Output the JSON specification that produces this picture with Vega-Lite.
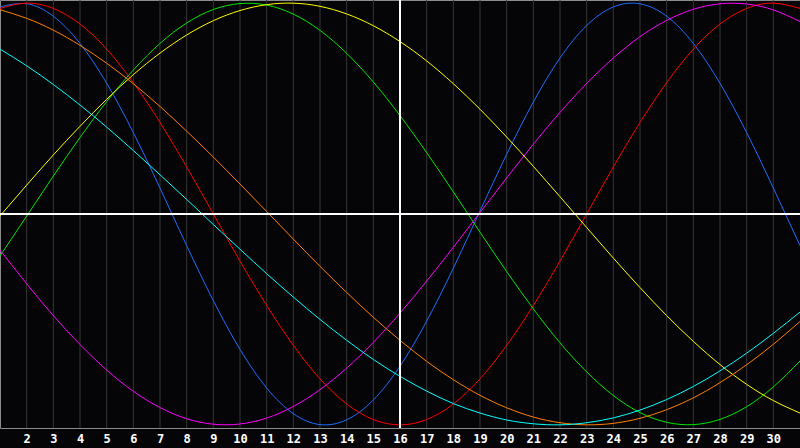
{
  "$schema": "https://vega.github.io/schema/vega-lite/v6.json",
  "width": 800,
  "height": 428,
  "padding": {"left": 0, "top": 0, "right": 0, "bottom": 20},
  "autosize": {"type": "none"},
  "background": "#050508",
  "config": {
    "view": {"stroke": "#8c8c8c", "fill": "#050508"},
    "axisX": {
      "labelOverlap": false, "labelBound": false,
      "grid": false, "ticks": false, "domain": false,
      "labelColor": "#ffffff", "labelFont": "DejaVu Sans Mono", "labelFontSize": 12,
      "labelFontWeight": "bold", "labelPadding": 5, "labelFlush": false
    }
  },
  "datasets": {
    "gridDays": [
      {"day":2},{"day":3},{"day":4},{"day":5},{"day":6},{"day":7},{"day":8},{"day":9},{"day":10},{"day":11},{"day":12},{"day":13},{"day":14},{"day":15},{"day":16},{"day":17},{"day":18},{"day":19},{"day":20},{"day":21},{"day":22},{"day":23},{"day":24},{"day":25},{"day":26},{"day":27},{"day":28},{"day":29},{"day":30}
    ],
    "cycles": [
      {"cycle":"Physical","day":1,"value":0.982},{"cycle":"Physical","day":2,"value":0.997},{"cycle":"Physical","day":3,"value":0.938},{"cycle":"Physical","day":4,"value":0.809},{"cycle":"Physical","day":5,"value":0.620},{"cycle":"Physical","day":6,"value":0.386},{"cycle":"Physical","day":7,"value":0.123},{"cycle":"Physical","day":8,"value":-0.150},{"cycle":"Physical","day":9,"value":-0.411},{"cycle":"Physical","day":10,"value":-0.642},{"cycle":"Physical","day":11,"value":-0.825},{"cycle":"Physical","day":12,"value":-0.947},{"cycle":"Physical","day":13,"value":-0.999},{"cycle":"Physical","day":14,"value":-0.976},{"cycle":"Physical","day":15,"value":-0.882},{"cycle":"Physical","day":16,"value":-0.722},{"cycle":"Physical","day":17,"value":-0.508},{"cycle":"Physical","day":18,"value":-0.257},{"cycle":"Physical","day":19,"value":0.014},{"cycle":"Physical","day":20,"value":0.283},{"cycle":"Physical","day":21,"value":0.531},{"cycle":"Physical","day":22,"value":0.740},{"cycle":"Physical","day":23,"value":0.894},{"cycle":"Physical","day":24,"value":0.982},{"cycle":"Physical","day":25,"value":0.997},{"cycle":"Physical","day":26,"value":0.938},{"cycle":"Physical","day":27,"value":0.809},{"cycle":"Physical","day":28,"value":0.620},{"cycle":"Physical","day":29,"value":0.386},{"cycle":"Physical","day":30,"value":0.123},{"cycle":"Physical","day":31,"value":-0.150},
      {"cycle":"Emotional","day":1,"value":0.975},{"cycle":"Emotional","day":2,"value":1.000},{"cycle":"Emotional","day":3,"value":0.975},{"cycle":"Emotional","day":4,"value":0.901},{"cycle":"Emotional","day":5,"value":0.782},{"cycle":"Emotional","day":6,"value":0.623},{"cycle":"Emotional","day":7,"value":0.434},{"cycle":"Emotional","day":8,"value":0.223},{"cycle":"Emotional","day":9,"value":0.0},{"cycle":"Emotional","day":10,"value":-0.223},{"cycle":"Emotional","day":11,"value":-0.434},{"cycle":"Emotional","day":12,"value":-0.623},{"cycle":"Emotional","day":13,"value":-0.782},{"cycle":"Emotional","day":14,"value":-0.901},{"cycle":"Emotional","day":15,"value":-0.975},{"cycle":"Emotional","day":16,"value":-1.000},{"cycle":"Emotional","day":17,"value":-0.975},{"cycle":"Emotional","day":18,"value":-0.901},{"cycle":"Emotional","day":19,"value":-0.782},{"cycle":"Emotional","day":20,"value":-0.623},{"cycle":"Emotional","day":21,"value":-0.434},{"cycle":"Emotional","day":22,"value":-0.223},{"cycle":"Emotional","day":23,"value":0.0},{"cycle":"Emotional","day":24,"value":0.223},{"cycle":"Emotional","day":25,"value":0.434},{"cycle":"Emotional","day":26,"value":0.623},{"cycle":"Emotional","day":27,"value":0.782},{"cycle":"Emotional","day":28,"value":0.901},{"cycle":"Emotional","day":29,"value":0.975},{"cycle":"Emotional","day":30,"value":1.000},{"cycle":"Emotional","day":31,"value":0.975},
      {"cycle":"Intellectual","day":1,"value":-0.199},{"cycle":"Intellectual","day":2,"value":-0.010},{"cycle":"Intellectual","day":3,"value":0.180},{"cycle":"Intellectual","day":4,"value":0.363},{"cycle":"Intellectual","day":5,"value":0.533},{"cycle":"Intellectual","day":6,"value":0.683},{"cycle":"Intellectual","day":7,"value":0.809},{"cycle":"Intellectual","day":8,"value":0.906},{"cycle":"Intellectual","day":9,"value":0.970},{"cycle":"Intellectual","day":10,"value":0.998},{"cycle":"Intellectual","day":11,"value":0.991},{"cycle":"Intellectual","day":12,"value":0.948},{"cycle":"Intellectual","day":13,"value":0.871},{"cycle":"Intellectual","day":14,"value":0.762},{"cycle":"Intellectual","day":15,"value":0.626},{"cycle":"Intellectual","day":16,"value":0.467},{"cycle":"Intellectual","day":17,"value":0.291},{"cycle":"Intellectual","day":18,"value":0.105},{"cycle":"Intellectual","day":19,"value":-0.086},{"cycle":"Intellectual","day":20,"value":-0.273},{"cycle":"Intellectual","day":21,"value":-0.450},{"cycle":"Intellectual","day":22,"value":-0.611},{"cycle":"Intellectual","day":23,"value":-0.749},{"cycle":"Intellectual","day":24,"value":-0.861},{"cycle":"Intellectual","day":25,"value":-0.942},{"cycle":"Intellectual","day":26,"value":-0.988},{"cycle":"Intellectual","day":27,"value":-0.999},{"cycle":"Intellectual","day":28,"value":-0.974},{"cycle":"Intellectual","day":29,"value":-0.914},{"cycle":"Intellectual","day":30,"value":-0.820},{"cycle":"Intellectual","day":31,"value":-0.697},
      {"cycle":"Intuitive","day":1,"value":-0.171},{"cycle":"Intuitive","day":2,"value":-0.331},{"cycle":"Intuitive","day":3,"value":-0.482},{"cycle":"Intuitive","day":4,"value":-0.619},{"cycle":"Intuitive","day":5,"value":-0.740},{"cycle":"Intuitive","day":6,"value":-0.841},{"cycle":"Intuitive","day":7,"value":-0.918},{"cycle":"Intuitive","day":8,"value":-0.971},{"cycle":"Intuitive","day":9,"value":-0.997},{"cycle":"Intuitive","day":10,"value":-0.996},{"cycle":"Intuitive","day":11,"value":-0.968},{"cycle":"Intuitive","day":12,"value":-0.913},{"cycle":"Intuitive","day":13,"value":-0.833},{"cycle":"Intuitive","day":14,"value":-0.731},{"cycle":"Intuitive","day":15,"value":-0.609},{"cycle":"Intuitive","day":16,"value":-0.470},{"cycle":"Intuitive","day":17,"value":-0.318},{"cycle":"Intuitive","day":18,"value":-0.158},{"cycle":"Intuitive","day":19,"value":0.007},{"cycle":"Intuitive","day":20,"value":0.171},{"cycle":"Intuitive","day":21,"value":0.331},{"cycle":"Intuitive","day":22,"value":0.482},{"cycle":"Intuitive","day":23,"value":0.619},{"cycle":"Intuitive","day":24,"value":0.740},{"cycle":"Intuitive","day":25,"value":0.841},{"cycle":"Intuitive","day":26,"value":0.918},{"cycle":"Intuitive","day":27,"value":0.971},{"cycle":"Intuitive","day":28,"value":0.997},{"cycle":"Intuitive","day":29,"value":0.996},{"cycle":"Intuitive","day":30,"value":0.968},{"cycle":"Intuitive","day":31,"value":0.913},
      {"cycle":"Aesthetic","day":1,"value":-0.009},{"cycle":"Aesthetic","day":2,"value":0.137},{"cycle":"Aesthetic","day":3,"value":0.280},{"cycle":"Aesthetic","day":4,"value":0.416},{"cycle":"Aesthetic","day":5,"value":0.544},{"cycle":"Aesthetic","day":6,"value":0.661},{"cycle":"Aesthetic","day":7,"value":0.763},{"cycle":"Aesthetic","day":8,"value":0.849},{"cycle":"Aesthetic","day":9,"value":0.917},{"cycle":"Aesthetic","day":10,"value":0.965},{"cycle":"Aesthetic","day":11,"value":0.993},{"cycle":"Aesthetic","day":12,"value":1.000},{"cycle":"Aesthetic","day":13,"value":0.985},{"cycle":"Aesthetic","day":14,"value":0.949},{"cycle":"Aesthetic","day":15,"value":0.893},{"cycle":"Aesthetic","day":16,"value":0.818},{"cycle":"Aesthetic","day":17,"value":0.726},{"cycle":"Aesthetic","day":18,"value":0.618},{"cycle":"Aesthetic","day":19,"value":0.497},{"cycle":"Aesthetic","day":20,"value":0.365},{"cycle":"Aesthetic","day":21,"value":0.226},{"cycle":"Aesthetic","day":22,"value":0.082},{"cycle":"Aesthetic","day":23,"value":-0.064},{"cycle":"Aesthetic","day":24,"value":-0.209},{"cycle":"Aesthetic","day":25,"value":-0.349},{"cycle":"Aesthetic","day":26,"value":-0.482},{"cycle":"Aesthetic","day":27,"value":-0.604},{"cycle":"Aesthetic","day":28,"value":-0.714},{"cycle":"Aesthetic","day":29,"value":-0.808},{"cycle":"Aesthetic","day":30,"value":-0.885},{"cycle":"Aesthetic","day":31,"value":-0.944},
      {"cycle":"Awareness","day":1,"value":0.969},{"cycle":"Awareness","day":2,"value":0.928},{"cycle":"Awareness","day":3,"value":0.872},{"cycle":"Awareness","day":4,"value":0.800},{"cycle":"Awareness","day":5,"value":0.715},{"cycle":"Awareness","day":6,"value":0.618},{"cycle":"Awareness","day":7,"value":0.510},{"cycle":"Awareness","day":8,"value":0.393},{"cycle":"Awareness","day":9,"value":0.270},{"cycle":"Awareness","day":10,"value":0.142},{"cycle":"Awareness","day":11,"value":0.012},{"cycle":"Awareness","day":12,"value":-0.119},{"cycle":"Awareness","day":13,"value":-0.248},{"cycle":"Awareness","day":14,"value":-0.372},{"cycle":"Awareness","day":15,"value":-0.490},{"cycle":"Awareness","day":16,"value":-0.599},{"cycle":"Awareness","day":17,"value":-0.699},{"cycle":"Awareness","day":18,"value":-0.786},{"cycle":"Awareness","day":19,"value":-0.860},{"cycle":"Awareness","day":20,"value":-0.919},{"cycle":"Awareness","day":21,"value":-0.963},{"cycle":"Awareness","day":22,"value":-0.990},{"cycle":"Awareness","day":23,"value":-1.000},{"cycle":"Awareness","day":24,"value":-0.993},{"cycle":"Awareness","day":25,"value":-0.969},{"cycle":"Awareness","day":26,"value":-0.928},{"cycle":"Awareness","day":27,"value":-0.872},{"cycle":"Awareness","day":28,"value":-0.800},{"cycle":"Awareness","day":29,"value":-0.715},{"cycle":"Awareness","day":30,"value":-0.618},{"cycle":"Awareness","day":31,"value":-0.510},
      {"cycle":"Spiritual","day":1,"value":0.782},{"cycle":"Spiritual","day":2,"value":0.703},{"cycle":"Spiritual","day":3,"value":0.614},{"cycle":"Spiritual","day":4,"value":0.517},{"cycle":"Spiritual","day":5,"value":0.412},{"cycle":"Spiritual","day":6,"value":0.301},{"cycle":"Spiritual","day":7,"value":0.186},{"cycle":"Spiritual","day":8,"value":0.069},{"cycle":"Spiritual","day":9,"value":-0.050},{"cycle":"Spiritual","day":10,"value":-0.167},{"cycle":"Spiritual","day":11,"value":-0.283},{"cycle":"Spiritual","day":12,"value":-0.394},{"cycle":"Spiritual","day":13,"value":-0.500},{"cycle":"Spiritual","day":14,"value":-0.599},{"cycle":"Spiritual","day":15,"value":-0.690},{"cycle":"Spiritual","day":16,"value":-0.770},{"cycle":"Spiritual","day":17,"value":-0.840},{"cycle":"Spiritual","day":18,"value":-0.899},{"cycle":"Spiritual","day":19,"value":-0.944},{"cycle":"Spiritual","day":20,"value":-0.977},{"cycle":"Spiritual","day":21,"value":-0.995},{"cycle":"Spiritual","day":22,"value":-1.000},{"cycle":"Spiritual","day":23,"value":-0.990},{"cycle":"Spiritual","day":24,"value":-0.967},{"cycle":"Spiritual","day":25,"value":-0.930},{"cycle":"Spiritual","day":26,"value":-0.880},{"cycle":"Spiritual","day":27,"value":-0.818},{"cycle":"Spiritual","day":28,"value":-0.744},{"cycle":"Spiritual","day":29,"value":-0.660},{"cycle":"Spiritual","day":30,"value":-0.566},{"cycle":"Spiritual","day":31,"value":-0.465}
    ]
  },
  "layer": [
    {
      "data": {"name": "gridDays"},
      "mark": {"type": "rule", "color": "#363636", "strokeWidth": 1},
      "encoding": {
        "x": {
          "field": "day", "type": "quantitative",
          "scale": {"domain": [1, 31], "nice": false, "zero": false},
          "axis": {
            "title": null,
            "values": [2,3,4,5,6,7,8,9,10,11,12,13,14,15,16,17,18,19,20,21,22,23,24,25,26,27,28,29,30],
            "tickCount": 30,
            "labelOverlap": false
          }
        }
      }
    },
    {
      "data": {"name": "cycles"},
      "mark": {"type": "line", "interpolate": "natural", "strokeWidth": 1, "clip": true},
      "encoding": {
        "x": {"field": "day", "type": "quantitative"},
        "y": {
          "field": "value", "type": "quantitative",
          "scale": {"domain": [-1.015, 1.015], "nice": false, "zero": false},
          "axis": null
        },
        "color": {
          "field": "cycle", "type": "nominal",
          "scale": {
            "domain": ["Physical","Emotional","Intellectual","Intuitive","Aesthetic","Awareness","Spiritual"],
            "range": ["#1e6fff","#ff0000","#00e600","#ff00ff","#ffff00","#ff8000","#00ffff"]
          },
          "legend": null
        }
      }
    },
    {
      "data": {"values": [{"day": 16}]},
      "mark": {"type": "rule", "color": "#ffffff", "strokeWidth": 2},
      "encoding": {"x": {"field": "day", "type": "quantitative"}}
    },
    {
      "data": {"values": [{"value": 0}]},
      "mark": {"type": "rule", "color": "#ffffff", "strokeWidth": 2},
      "encoding": {"y": {"field": "value", "type": "quantitative"}}
    }
  ]
}
